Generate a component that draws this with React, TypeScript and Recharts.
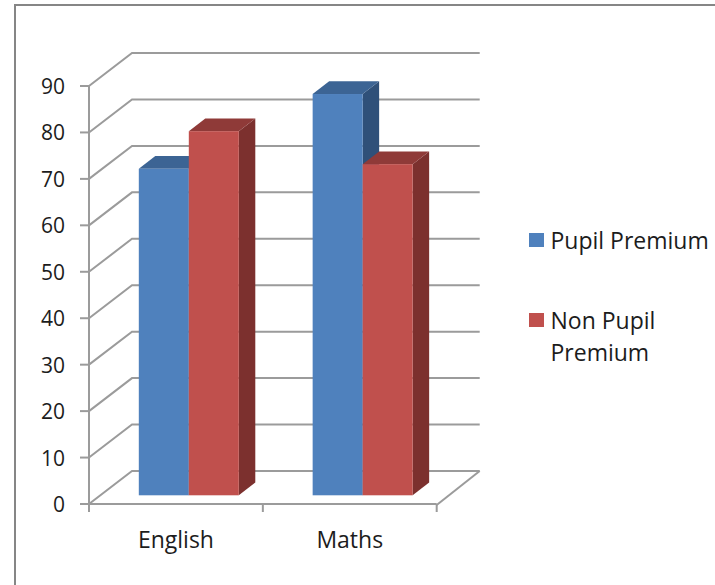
import React from "react";
import { BarChart, Bar, XAxis, YAxis, CartesianGrid, Legend } from "recharts";

const categories = ["English", "Maths"];
const pupilPremium = [70.3, 86.4];
const nonPupilPremium = [78.4, 71.3];
const yTicks = [0, 10, 20, 30, 40, 50, 60, 70, 80, 90];
const seriesNames = ["Pupil Premium", "Non Pupil Premium"];

const rows = categories.map((name, i) => ({
  name,
  pp: pupilPremium[i],
  npp: nonPupilPremium[i],
}));

const FONT = "'Open Sans', sans-serif";
const TEXT = "#1c1c1c";
const GRID = "#9b9b9b";
const WALL_DX = 43;
const WALL_DY = -33;
const BAR_SHIFT_X = 12.8;
const BAR_SHIFT_Y = -8.7;
const BAR_DX = 16.5;
const BAR_DY = -12.7;

function makeBar(front: string, top: string, side: string) {
  return (p: any) => {
    const x = p.x + BAR_SHIFT_X;
    const y = p.y + BAR_SHIFT_Y;
    const w = p.width;
    const h = p.height;
    return (
      <g>
        <polygon
          points={`${x + w},${y} ${x + w + BAR_DX},${y + BAR_DY} ${x + w + BAR_DX},${y + h + BAR_DY} ${x + w},${y + h}`}
          fill={side}
        />
        <polygon
          points={`${x},${y} ${x + BAR_DX},${y + BAR_DY} ${x + w + BAR_DX},${y + BAR_DY} ${x + w},${y}`}
          fill={top}
        />
        <rect x={x} y={y} width={w} height={h} fill={front} />
      </g>
    );
  };
}

const blueBar = makeBar("#4f81bd", "#3c6494", "#2f5079");
const redBar = makeBar("#c0504d", "#8f3a38", "#7c302e");

function wallLine(p: any) {
  const bx1 = p.x1 + WALL_DX;
  const bx2 = p.x2 + WALL_DX;
  const by = p.y1 + WALL_DY;
  const isFloor = p.index === 0;
  return (
    <g key={`w${p.index}`} fill="none" stroke={GRID} strokeWidth={2}>
      <polyline points={`${p.x1},${p.y1} ${bx1},${by} ${bx2},${by}`} />
      {isFloor ? <line x1={bx2} y1={by} x2={p.x2} y2={p.y1 + 1} /> : null}
    </g>
  );
}

function xBoundaryTick(p: any) {
  return (
    <line
      key={`v${p.index}`}
      x1={p.x1}
      x2={p.x1}
      y1={p.y2}
      y2={p.y2 + 8}
      stroke={GRID}
      strokeWidth={2}
    />
  );
}

const boundaries = ({ offset }: any) => [
  offset.left,
  offset.left + offset.width / 2,
  offset.left + offset.width,
];

function LegendBox() {
  const blocks = [
    { label: seriesNames[0], color: "#4f81bd", gap: 0 },
    { label: seriesNames[1], color: "#c0504d", gap: 48 },
  ];
  return (
    <div style={{ fontFamily: FONT, fontSize: 23, lineHeight: "32px", color: TEXT }}>
      {blocks.map((b) => (
        <div key={b.label} style={{ display: "flex", marginTop: b.gap }}>
          <div
            style={{
              width: 14.5,
              height: 14.5,
              marginTop: 8.5,
              marginRight: 7,
              background: b.color,
              flex: "none",
            }}
          />
          <div style={{ width: 165, whiteSpace: "normal" }}>{b.label}</div>
        </div>
      ))}
    </div>
  );
}

export default function App() {
  return (
    <div
      style={{
        position: "fixed",
        left: 0,
        top: 0,
        width: 715,
        height: 585,
        background: "#ffffff",
        overflow: "hidden",
      }}
    >
      <div
        style={{
          position: "absolute",
          left: 14,
          top: 4,
          width: 720,
          height: 600,
          borderLeft: "2.5px solid #868686",
          borderTop: "2.5px solid #868686",
        }}
      />
      <BarChart
        width={715}
        height={585}
        data={rows}
        barSize={50}
        barGap={0}
        margin={{ top: 86, left: 29, right: 278.3, bottom: 51 }}
        style={{ position: "absolute", left: 0, top: 0 }}
      >
        <CartesianGrid
          vertical={xBoundaryTick as any}
          horizontal={wallLine as any}
          verticalCoordinatesGenerator={boundaries as any}
        />
        <XAxis
          dataKey="name"
          height={30}
          tickLine={false}
          axisLine={{ stroke: GRID, strokeWidth: 2 }}
          tick={{ fill: TEXT, fontSize: 23, fontFamily: FONT, dy: 20 }}
        />
        <YAxis
          width={60}
          domain={[0, 90]}
          ticks={yTicks}
          interval={0}
          tickSize={9}
          tickMargin={15}
          axisLine={{ stroke: GRID, strokeWidth: 2 }}
          tickLine={{ stroke: GRID, strokeWidth: 2 }}
          tick={{ fill: TEXT, fontSize: 21, fontFamily: FONT, dy: 0.5 }}
        />
        <Bar dataKey="pp" name={seriesNames[0]} fill="#4f81bd" shape={blueBar} isAnimationActive={false} />
        <Bar dataKey="npp" name={seriesNames[1]} fill="#c0504d" shape={redBar} isAnimationActive={false} />
        <Legend
          layout="vertical"
          align="center"
          verticalAlign="middle"
          content={<LegendBox />}
          wrapperStyle={{ position: "absolute", left: 529, top: 224, width: 186 }}
        />
      </BarChart>
    </div>
  );
}
